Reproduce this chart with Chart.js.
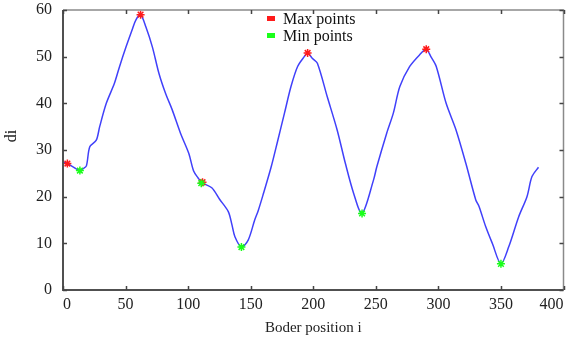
<!DOCTYPE html>
<html>
<head>
<meta charset="utf-8">
<script src="https://cdn.jsdelivr.net/npm/chart.js@4"></script>
<style>
  body { margin: 0; background: #fff; }
  #wrap { position: relative; width: 569px; height: 341px; }
  #legend { position: absolute; left: 267px; top: 10px; font-family: "Liberation Serif", "Times New Roman", serif; font-size: 16px; line-height: 17px; color: #111; }
  #legend div { display: flex; align-items: center; }
  #legend .box { display: inline-block; width: 8px; height: 5px; margin-right: 8px; }
</style>
</head>
<body>
<div id="wrap">
  <canvas id="myChart" width="569" height="341"></canvas>
  <div id="legend"></div>
</div>
<script>
// curve
var lineX = [0, 3.5, 8, 13.5, 16, 18.7, 21.4, 26.6, 29.3, 34.6, 41.1, 45.1, 50.4, 55.7, 58.3, 62, 66.2, 71.4, 76.7, 82,
  87.3, 93.9, 100.5, 104.4, 108, 111, 118.9, 125, 132.1, 135, 137.4, 142.6, 148, 153.2, 156, 160, 166.4, 171.7, 177, 182.2,
  187.5, 192.8, 195.5, 199.4, 203.3, 211.2, 219.1, 225.7, 232.3, 239, 248.2, 250.8, 258.7, 264, 269.2, 277.1, 285, 290.3, 294, 298.3,
  306.2, 314.1, 322, 329.9, 332.5, 337.8, 343.1, 350, 356.3, 364.2, 370.8, 374.8, 380];
var lineY = [27.4, 27.1, 26.4, 25.6, 26, 26.6, 30.7, 32.1, 35, 40, 44.3, 47.8, 52.1, 56.1, 57.9, 59, 56.4, 52.1, 46.4, 42.1,
  38.6, 33.6, 29.3, 25.5, 24, 23, 21.9, 19.5, 16.8, 14, 11.4, 9.2, 10.7, 15, 17, 20.5, 26.4, 32.1, 37.9, 43.6,
  47.9, 50, 50.8, 49.6, 48.6, 41.4, 34.3, 27.1, 20.7, 16.4, 23.6, 26.4, 33.6, 37.9, 43.6, 47.9, 50.4, 51.6, 50, 47.9,
  40, 34.3, 27.1, 19.3, 17.9, 13.6, 10, 5.6, 9.3, 15.7, 20, 24.3, 26.3];

var maxX = [3.5, 62, 111.5, 195.5, 290.3];
var maxY = [27.1, 59, 23.1, 50.8, 51.6];
var minX = [13.5, 110.5, 142.6, 239, 350];
var minY = [25.6, 22.9, 9.2, 16.4, 5.6];

var xTicks = [0, 50, 100, 150, 200, 250, 300, 350, 400];
var yTicks = [0, 10, 20, 30, 40, 50, 60];

function pairs(xs, ys) {
  var out = [];
  for (var i = 0; i < xs.length; i++) out.push({x: xs[i], y: ys[i]});
  return out;
}

Chart.defaults.font.family = '"Liberation Serif", "Times New Roman", serif';
Chart.defaults.color = '#222';

// box round the plot with inward ticks on all four sides
var framePlugin = {
  id: 'frame',
  afterDatasetsDraw: function (chart) {
    var ctx = chart.ctx, a = chart.chartArea;
    var xs = chart.scales.x, ys = chart.scales.y;
    ctx.save();
    ctx.strokeStyle = '#8a8a8a';
    ctx.lineWidth = 1.5;
    ctx.beginPath();
    ctx.moveTo(a.left, a.top); ctx.lineTo(a.right, a.top); ctx.lineTo(a.right, a.bottom);
    ctx.stroke();
    ctx.strokeStyle = '#505050';
    ctx.lineWidth = 2;
    ctx.beginPath();
    ctx.moveTo(a.left, a.top); ctx.lineTo(a.left, a.bottom); ctx.lineTo(a.right, a.bottom);
    ctx.stroke();
    ctx.lineWidth = 1.5;
    ctx.strokeStyle = '#444';
    ctx.beginPath();
    xs.ticks.forEach(function (t) {
      var p = Math.round(xs.getPixelForValue(t.value)) + 0.5;
      ctx.moveTo(p, a.bottom); ctx.lineTo(p, a.bottom - 4);
      ctx.moveTo(p, a.top); ctx.lineTo(p, a.top + 4);
    });
    ys.ticks.forEach(function (t) {
      var p = Math.round(ys.getPixelForValue(t.value)) + 0.5;
      ctx.moveTo(a.left, p); ctx.lineTo(a.left + 4, p);
      ctx.moveTo(a.right, p); ctx.lineTo(a.right - 4, p);
    });
    ctx.stroke();
    ctx.restore();
  }
};

var ctx = document.getElementById('myChart');
var myChart = new Chart(ctx, {
  type: 'scatter',
  data: {
    datasets: [{
      label: 'di',
      data: pairs(lineX, lineY),
      showLine: true,
      borderColor: 'rgb(64, 64, 250)',
      borderWidth: 1.5,
      pointRadius: 0,
      tension: 0.3,
      order: 2
    }, {
      label: 'Max points',
      data: pairs(maxX, maxY),
      pointStyle: 'star',
      pointRadius: 4,
      borderColor: '#ff1a1a',
      backgroundColor: '#ff1a1a',
      borderWidth: 1.5,
      order: 1
    }, {
      label: 'Min points',
      data: pairs(minX, minY),
      pointStyle: 'star',
      pointRadius: 4,
      borderColor: '#1aff1a',
      backgroundColor: '#1aff1a',
      borderWidth: 1.5,
      order: 0
    }]
  },
  options: {
    responsive: false,
    animation: false,
    layout: { padding: { top: 10, right: 1, left: 0, bottom: 0 } },
    plugins: { legend: { display: false }, tooltip: { enabled: false } },
    scales: {
      x: {
        type: 'linear', min: 0, max: 400,
        afterBuildTicks: function (s) { s.ticks = xTicks.map(function (v) { return {value: v}; }); },
        afterFit: function (s) { s.height = 51; s.paddingLeft = 0; s.paddingRight = 0; },
        grid: { display: false, drawTicks: false }, border: { display: false },
        ticks: { font: { size: 16 }, padding: 5, maxRotation: 0, align: 'inner' },
        title: { display: true, text: 'Boder position i', font: { size: 15 }, padding: { top: 0, bottom: 4 } }
      },
      y: {
        type: 'linear', min: 0, max: 60,
        afterBuildTicks: function (s) { s.ticks = yTicks.map(function (v) { return {value: v}; }); },
        afterFit: function (s) { s.width = 63; s.paddingTop = 0; s.paddingBottom = 0; },
        grid: { display: false, drawTicks: false }, border: { display: false },
        ticks: { font: { size: 16 }, padding: 11 },
        // leading spaces lift the rotated label a little above centre, as in the original
        title: { display: true, text: '       di', font: { size: 16 }, padding: { top: 2.4, bottom: 0 } }
      }
    }
  },
  plugins: [framePlugin]
});

// legend stacked like the original, built from the marker datasets
var legend = document.getElementById('legend');
myChart.data.datasets.slice(1).forEach(function (ds) {
  var row = document.createElement('div');
  var box = document.createElement('span');
  box.className = 'box';
  box.style.background = ds.borderColor;
  row.appendChild(box);
  row.appendChild(document.createTextNode(ds.label));
  legend.appendChild(row);
});
</script>
</body>
</html>
